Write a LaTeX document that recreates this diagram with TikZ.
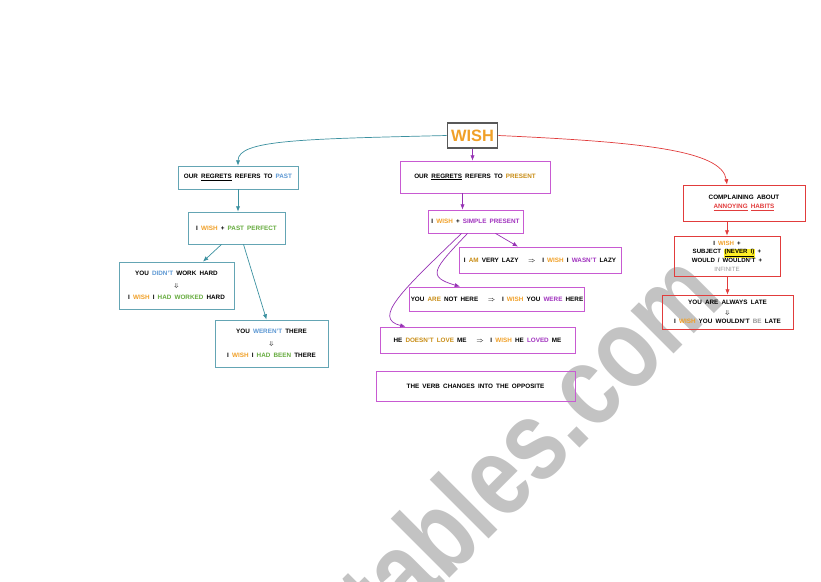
\documentclass[tikz,border=0pt]{standalone}
\usepackage{fontspec}
\setmainfont{Liberation Sans}[WordSpace=1.8]
\usetikzlibrary{calc,arrows.meta}

\definecolor{tealbox}{RGB}{100,165,180}
\definecolor{tealline}{RGB}{60,145,160}
\definecolor{purplebox}{RGB}{200,90,210}
\definecolor{purpleline}{RGB}{150,50,180}
\definecolor{redline}{RGB}{225,60,60}
\definecolor{wishorange}{RGB}{240,160,40}
\definecolor{darkorange}{RGB}{200,140,20}
\definecolor{greenword}{RGB}{100,170,60}
\definecolor{blueword}{RGB}{90,150,210}
\definecolor{purpleword}{RGB}{160,50,190}
\definecolor{greyword}{RGB}{150,150,150}
\definecolor{wmgrey}{RGB}{195,195,195}
\definecolor{hilite}{RGB}{255,240,40}

\newcommand{\wishword}{\textcolor{wishorange}{WISH}}

\begin{document}
\begin{tikzpicture}[x=0.3mm,y=-0.3mm,
    font=\fontsize{5.4}{9}\selectfont\bfseries,
    box/.style={draw, line width=0.7pt, align=center, inner sep=1pt},
    pastbox/.style={box, draw=tealbox},
    presbox/.style={box, draw=purplebox},
    habitbox/.style={box, draw=redline},
    arr/.style={line width=0.6pt, -{Latex[length=1.6mm,width=1.3mm]}}]
    \useasboundingbox (0,0) rectangle (821,581);
    \begin{scope}
        \clip (0,0) rectangle (821,581);
        \node[rotate=45, anchor=base east, text=wmgrey, inner sep=0pt,
            font=\fontsize{98}{98}\selectfont\bfseries] (watermark) at (727,301) {\scalebox{0.8}[1]{eslprintables.com}};
    \end{scope}

    \node[draw=black!65, line width=1pt, minimum width=14.1mm, minimum height=7.5mm,
        font=\fontsize{14}{14}\selectfont\bfseries, text=wishorange] (wish) at (472.5,135.5) {WISH};

    % past
    \node[pastbox, minimum width=36mm, minimum height=6.9mm] (a1) at (238,177.5)
        {OUR \underline{REGRETS} REFERS TO \textcolor{blueword}{PAST}};
    \node[pastbox, minimum width=29.1mm, minimum height=9.6mm] (a2) at (236.5,228)
        {I \wishword{} + \textcolor{greenword}{PAST PERFECT}};
    \node[pastbox, minimum width=34.5mm, minimum height=14.1mm] (a3) at (176.5,285.5)
        {YOU \textcolor{blueword}{DIDN'T} WORK HARD\\[1pt] $\Downarrow$\\[1pt] I \wishword{} I \textcolor{greenword}{HAD WORKED} HARD};
    \node[pastbox, minimum width=33.9mm, minimum height=14.1mm] (a4) at (271.5,343.5)
        {YOU \textcolor{blueword}{WEREN'T} THERE\\[1pt] $\Downarrow$\\[1pt] I \wishword{} I \textcolor{greenword}{HAD BEEN} THERE};

    % present
    \node[presbox, minimum width=45mm, minimum height=9.6mm] (b1) at (475,177)
        {OUR \underline{REGRETS} REFERS TO \textcolor{darkorange}{PRESENT}};
    \node[presbox, minimum width=28.5mm, minimum height=6.9mm] (b2) at (475.5,221.5)
        {I \wishword{} + \textcolor{purpleword}{SIMPLE PRESENT}};
    \node[presbox, minimum width=48.6mm, minimum height=7.8mm] (b3) at (540,260)
        {I \textcolor{darkorange}{AM} VERY LAZY \quad$\Rightarrow$\quad I \wishword{} I \textcolor{purpleword}{WASN'T} LAZY};
    \node[presbox, minimum width=48.6mm, minimum height=7.2mm] (b4) at (497,299)
        {YOU \textcolor{darkorange}{ARE} NOT HERE \quad$\Rightarrow$\quad I \wishword{} YOU \textcolor{purpleword}{WERE} HERE};
    \node[presbox, minimum width=58.5mm, minimum height=7.8mm] (b5) at (477.5,340)
        {HE \textcolor{darkorange}{DOESN'T LOVE} ME \quad$\Rightarrow$\quad I \wishword{} HE \textcolor{purpleword}{LOVED} ME};
    \node[presbox, minimum width=59.7mm, minimum height=9mm] (b6) at (475.5,386)
        {THE VERB CHANGES INTO THE OPPOSITE};

    % habits
    \node[habitbox, minimum width=36.6mm, minimum height=10.8mm, font=\fontsize{5.4}{8.5}\selectfont\bfseries] (c1) at (744,203)
        {COMPLAINING ABOUT\\ \textcolor{redline}{\underline{ANNOYING} \underline{HABITS}}};
    \node[habitbox, minimum width=31.8mm, minimum height=12mm, font=\fontsize{5.2}{7.4}\selectfont\bfseries] (c2) at (727,256)
        {I \wishword{} +\\ SUBJECT {\fboxsep=0.3pt\colorbox{hilite}{\underline{(NEVER I)}}} +\\ WOULD / WOULDN'T +\\ \textcolor{greyword}{\mdseries INFINITE}};
    \node[habitbox, minimum width=39.3mm, minimum height=10.2mm, font=\fontsize{5.4}{8.1}\selectfont\bfseries] (c3) at (727.5,312)
        {YOU ARE ALWAYS LATE\\ $\Downarrow$\\ I \wishword{} YOU WOULDN'T \textcolor{greyword}{BE} LATE};

    \coordinate (b2in) at ($(b2.north)+(-13,0)$);

    \draw[arr, tealline] (wish.west) .. controls (300,139) and (238,140) .. (a1.north);
    \draw[arr, tealline] (a1.south) -- (a1.south |- a2.north);
    \draw[arr, tealline] ($(a2.south)+(-15,0)$) -- ($(a3.north)+(26.5,0)$);
    \draw[arr, tealline] ($(a2.south)+(7,0)$) -- ($(a4.north)+(-5,0)$);

    \draw[arr, purpleline] (wish.south) -- (wish.south |- b1.north);
    \draw[arr, purpleline] (b2in |- b1.south) -- (b2in);
    \draw[arr, purpleline] ($(b2.south)+(20,0)$) -- ($(b3.north)+(-22,0)$);
    \draw[arr, purpleline] ($(b2.south)+(-8,0)$) .. controls +(-34,36) and +(-34,-10) .. ($(b4.north)+(-37,0)$);
    \draw[arr, purpleline] ($(b2.south)+(-14,0)$) .. controls +(-58,56) and +(-34,-8) .. ($(b5.north)+(-72,0)$);

    \draw[arr, redline] (wish.east) .. controls (640,142) and (722,150) .. (c2.north |- c1.north);
    \draw[arr, redline] (c2.north |- c1.south) -- (c2.north);
    \draw[arr, redline] (c3.north |- c2.south) -- (c3.north);
\end{tikzpicture}
\end{document}
